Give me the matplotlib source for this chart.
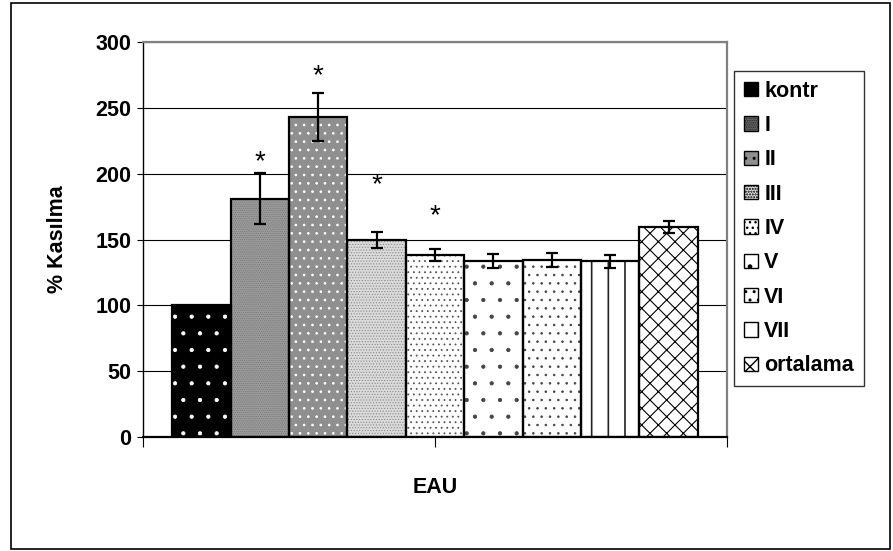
import numpy as np
import matplotlib.pyplot as plt
from matplotlib.patches import Rectangle, Patch

plt.rcParams['font.family'] = ['Liberation Sans', 'DejaVu Sans']

# veriler
labels = ['kontr', 'I', 'II', 'III', 'IV', 'V', 'VI', 'VII', 'ortalama']
values = [100, 181, 243, 149.5, 138, 133.5, 134.5, 133.5, 159.5]
errors = [0, 19.5, 18.5, 6.3, 4.5, 5.2, 5.2, 5.0, 4.8]
yticks = [0, 50, 100, 150, 200, 250, 300]
# yildiz (anlamlilik) isaretleri: bar indeksi ve yukseklik
star_idx = [1, 2, 3, 4]
star_y = [214, 279, 196, 173]

# desenler: (dolgu rengi, tarama, tarama rengi, tarama kalinligi)
styles = [
    ('#000000', '.', '#ffffff', 0.6),
    ('#9a9a9a', '........', '#7a7a7a', 0.5),
    ('#8f8f8f', '..', '#ffffff', 0.7),
    ('#dadada', '......', '#8a8a8a', 0.5),
    ('#ffffff', '...', '#555555', 0.6),
    ('#ffffff', '.', '#444444', 0.6),
    ('#ffffff', '..', '#444444', 0.6),
    ('#ffffff', '|', '#222222', 1.2),
    ('#ffffff', 'xx', '#000000', 0.8),
]
fs = 15.5

fig = plt.figure(figsize=(8.93, 5.51), dpi=100)
ax = fig.add_axes([143/893, 1-437/551, 584/893, 395/551])

# dis cerceve
fig.patches.append(Rectangle((11/893, 2/551), 879/893, 546/551, transform=fig.transFigure,
                             fill=False, edgecolor='black', linewidth=1.2, zorder=0))

x = np.arange(len(labels)) - 4
w = 1.0
for i in range(len(labels)):
    fc, hatch, hc, hlw = styles[i]
    with plt.rc_context({'hatch.linewidth': hlw}):
        b = ax.bar(x[i], values[i], width=w, color=fc, hatch=hatch, edgecolor=hc, linewidth=0, zorder=2)
        for p in b:
            if hasattr(p, 'set_hatch_linewidth'):
                p.set_hatch_linewidth(hlw)
    ax.bar(x[i], values[i], width=w, fill=False, edgecolor='black', linewidth=1.6, zorder=3)

ax.errorbar(x[1:], values[1:], yerr=errors[1:], fmt='none', ecolor='black',
            elinewidth=1.6, capsize=4.5, capthick=1.6, zorder=4)

for i, yv in zip(star_idx, star_y):
    ax.text(x[i], yv - 5, '*', ha='center', va='center', fontsize=20, zorder=5)

ax.set_xlim(-5, 5)
ax.set_ylim(0, 300)
ax.set_yticks(yticks)
ax.set_yticklabels([str(t) for t in yticks], fontsize=fs, fontweight='bold')
ax.set_xticks([-5, 0, 5])
ax.set_xticklabels([])
ax.tick_params(axis='y', length=4.5, width=0.8, pad=4)
ax.tick_params(axis='x', length=7, width=0.8, direction='out')
ax.yaxis.grid(True, color='black', linewidth=0.8, zorder=0)
ax.set_axisbelow(True)

for s in ['top', 'right']:
    ax.spines[s].set_color('#808080')
    ax.spines[s].set_linewidth(1.6)
ax.spines['left'].set_color('black')
ax.spines['left'].set_linewidth(1.0)
ax.spines['bottom'].set_color('black')
ax.spines['bottom'].set_linewidth(1.6)

ax.set_ylabel('% Kasılma', fontsize=fs, fontweight='bold')
ax.yaxis.set_label_coords(-0.128, 0.5)
ax.set_xlabel('EAU', fontsize=fs, fontweight='bold', va='center')
ax.xaxis.set_label_coords(0.5, -0.129)

handles = []
for i in range(len(labels)):
    fc, hatch, hc, hlw = styles[i]
    handles.append(Patch(facecolor=fc, hatch=hatch, edgecolor='black', linewidth=1.0, label=labels[i]))
leg = fig.legend(handles=handles, loc='upper left', bbox_to_anchor=(734/893, 1-71/551),
                 prop={'size': fs, 'weight': 'bold'}, frameon=True, fancybox=False,
                 edgecolor='black', handlelength=0.65, handleheight=0.65, handletextpad=0.3,
                 labelspacing=0.62, borderpad=0.45, borderaxespad=0)
leg.get_frame().set_linewidth(1.0)

fig.savefig('out.png', dpi=100)
